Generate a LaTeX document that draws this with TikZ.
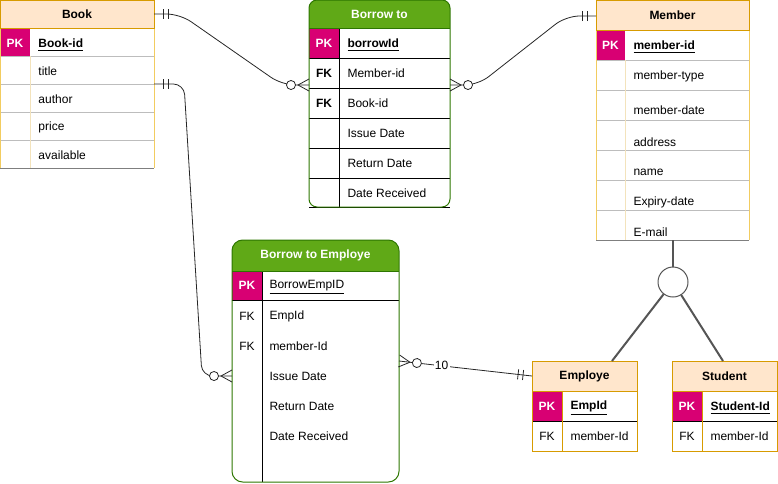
\documentclass[tikz,border=0pt]{standalone}
\usepackage{fontspec}
\setmainfont{Liberation Sans}
\usetikzlibrary{calc}
\definecolor{peach}{HTML}{FFE6CC}
\definecolor{gold}{HTML}{D79B00}
\definecolor{palegold}{HTML}{F2CC60}
\definecolor{faintgold}{HTML}{F3E3BC}
\definecolor{rowgrey}{HTML}{BDBDBD}
\definecolor{edgegrey}{HTML}{7F7F7F}
\definecolor{pkpink}{HTML}{D80073}
\definecolor{leaf}{HTML}{60A917}
\definecolor{forest}{HTML}{2D7600}
\definecolor{linkgrey}{HTML}{555555}
\newcommand{\erfont}{\fontsize{9}{11}\selectfont}
% zero-or-many end, #1 = point on the table, #2 = direction away from it
\newcommand{\crowzero}[2]{%
  \begin{scope}[shift={(#1)},rotate=#2]
    \draw[link] (0,-6) -- (11,0) -- (0,6);
    \draw[link,fill=white] (18,0) circle[radius=3.4pt];
  \end{scope}}
% exactly-one end
\newcommand{\onlyone}[2]{%
  \begin{scope}[shift={(#1)},rotate=#2]
    \draw[link] (9,-5) -- (9,5) (14,-5) -- (14,5);
  \end{scope}}
\tikzset{
  link/.style={draw=black!85,line width=0.6pt},
  genline/.style={draw=linkgrey,line width=1.5pt},
  fieldtxt/.style={anchor=west,inner sep=0pt,font=\erfont},
  keytxt/.style={fieldtxt,yshift=-1.5pt},
  hdrtxt/.style={inner sep=0pt,font=\erfont\bfseries},
  pktxt/.style={inner sep=0pt,text=white,font=\erfont\bfseries},
  fktxt/.style={inner sep=0pt,font=\erfont},
}

\begin{document}
\begin{tikzpicture}[x=0.75pt,y=-0.75pt,line width=0.75pt]
\useasboundingbox (0,0) rectangle (778,483);

% Book
\fill[peach] (0,0) rectangle (154,28);
\fill[pkpink] (0,28) rectangle (30,56);
\foreach \y in {56,84,112,140} \draw[rowgrey] (0,\y) -- (154,\y);
\draw[faintgold] (30,56) -- (30,168);
\draw[palegold] (0,28) -- (0,168) (154,28) -- (154,168);
\draw[edgegrey] (0,168) -- (154,168);
\draw[gold] (0,0) rectangle (154,28);
\node[hdrtxt] (book) at (77,14) {Book};
\node[pktxt] (bk-pk) at (15,43) {PK};
\node[keytxt,font=\erfont\bfseries] (bk-id) at (38,43) {\underline{Book-id}};
\foreach \t [count=\i] in {title,author,price,available}
  \node[fieldtxt] (bk-f\i) at (38,43+28*\i) {\t};
\coordinate (bk-top) at (154,14);
\coordinate (bk-mid) at (154,84);

% Borrow to
\begin{scope}
  \clip[rounded corners=6pt] (309,0) rectangle (450,207);
  \fill[leaf] (309,0) rectangle (450,28);
  \fill[pkpink] (309,28) rectangle (339,58);
\end{scope}
\foreach \y in {58,88,118,148,178} \draw (309,\y) -- (450,\y);
\draw (339,28) -- (339,207) (309,207) -- (450,207);
\draw[forest] (309,28) -- (450,28);
\draw[forest,rounded corners=6pt] (309,0) rectangle (450,207);
\node[hdrtxt,text=white] (borrow) at (379.5,14) {Borrow to};
\node[pktxt] (br-pk) at (324,43) {PK};
\node[keytxt,font=\erfont\bfseries] (br-id) at (347,43) {\underline{borrowId}};
\node[fktxt,font=\erfont\bfseries] (br-fk1) at (324,73) {FK};
\node[fktxt,font=\erfont\bfseries] (br-fk2) at (324,103) {FK};
\foreach \t [count=\i] in {Member-id,Book-id,Issue Date,Return Date,Date Received}
  \node[fieldtxt] (br-f\i) at (347,43+30*\i) {\t};
\coordinate (br-left) at (309,85);
\coordinate (br-right) at (450,85);

% Member
\fill[peach] (596,0) rectangle (749,30);
\fill[pkpink] (596,30) rectangle (625,60);
\foreach \y in {60,90,...,210} \draw[rowgrey] (596,\y) -- (749,\y);
\draw[faintgold] (625,60) -- (625,240);
\draw[palegold] (596,30) -- (596,240) (749,30) -- (749,240);
\draw[edgegrey] (596,240) -- (749,240);
\draw[gold] (596,0) rectangle (749,30);
\node[hdrtxt] (member) at (672.5,15) {Member};
\node[pktxt] (mb-pk) at (610.5,45) {PK};
\node[keytxt,font=\erfont\bfseries] (mb-id) at (633,45) {\underline{member-id}};
\foreach \t/\y [count=\i] in {member-type/76,member-date/110,address/142,name/172,Expiry-date/202,E-mail/232}
  \node[fieldtxt] (mb-f\i) at (633,\y) {\t};
\coordinate (mb-top) at (596,16);
\coordinate (mb-foot) at (673,240);

% Borrow to Employe
\begin{scope}
  \clip[rounded corners=8pt] (232,240) rectangle (399,482);
  \fill[leaf] (232,240) rectangle (399,271);
  \fill[pkpink] (232,271) rectangle (262,300);
\end{scope}
\draw (232,300) -- (399,300) (262,271) -- (262,482);
\draw[forest] (232,271) -- (399,271);
\draw[forest,rounded corners=8pt] (232,240) rectangle (399,482);
\node[hdrtxt,text=white] (borrowemp) at (315.5,255.5) {Borrow to Employe};
\node[pktxt] (be-pk) at (247,285) {PK};
\node[keytxt] (be-id) at (269,285) {\underline{BorrowEmpID}};
\node[fktxt] (be-fk1) at (247,316) {FK};
\node[fktxt] (be-fk2) at (247,346) {FK};
\foreach \t [count=\i] in {EmpId,member-Id,Issue Date,Return Date,Date Received}
  \node[fieldtxt] (be-f\i) at (269,286+30*\i) {\t};
\coordinate (be-left) at (232,376);
\coordinate (be-right) at (399,361);

% Employe
\fill[peach] (532,361) rectangle (637,391);
\fill[pkpink] (532,391) rectangle (562,421);
\draw (532,421) -- (637,421);
\draw[gold] (562,391) -- (562,451);
\draw[gold] (532,361) rectangle (637,451) (532,391) -- (637,391);
\node[hdrtxt] (employe) at (584.5,376) {Employe};
\node[pktxt] (em-pk) at (547,406) {PK};
\node[keytxt,font=\erfont\bfseries] (em-id) at (570,406) {\underline{EmpId}};
\node[fktxt] (em-fk) at (547,436) {FK};
\node[fieldtxt] (em-f1) at (570,436) {member-Id};
\coordinate (em-left) at (532,376);
\coordinate (em-head) at (612,361);

% Student
\fill[peach] (672,361) rectangle (777,391);
\fill[pkpink] (672,391) rectangle (702,421);
\draw (672,421) -- (777,421);
\draw[gold] (702,391) -- (702,451);
\draw[gold] (672,361) rectangle (777,451) (672,391) -- (777,391);
\node[hdrtxt] (student) at (724.5,376) {Student};
\node[pktxt] (st-pk) at (687,406) {PK};
\node[keytxt,font=\erfont\bfseries] (st-id) at (710,406) {\underline{Student-Id}};
\node[fktxt] (st-fk) at (687,436) {FK};
\node[fieldtxt] (st-f1) at (710,436) {member-Id};
\coordinate (st-head) at (723,361);

% specialisation
\node[circle,draw=linkgrey,fill=white,line width=0.75pt,minimum size=22.5pt,inner sep=0pt] (spec) at (673,282) {};
\draw[genline] (mb-foot) -- (spec);
\draw[genline] (spec) -- (em-head);
\draw[genline] (spec) -- (st-head);

% relationships
\draw[link,rounded corners=10pt] (bk-top) -- (180,14) -- (282,85) -- (br-left);
\draw[link,rounded corners=10pt] (mb-top) -- (566,16) -- (478,85) -- (br-right);
\draw[link,rounded corners=8pt] (bk-mid) -- (184,84) -- (202,376) -- (be-left);
\draw[link] (be-right) -- (em-left)
  node[pos=0.32,fill=white,inner sep=1pt,font=\erfont] (ten) {10};
\onlyone{bk-top}{0}
\crowzero{br-left}{180}
\onlyone{mb-top}{180}
\crowzero{br-right}{0}
\onlyone{bk-mid}{0}
\crowzero{be-left}{180}
\crowzero{be-right}{-6.4}
\onlyone{em-left}{173.6}
\end{tikzpicture}
\end{document}
